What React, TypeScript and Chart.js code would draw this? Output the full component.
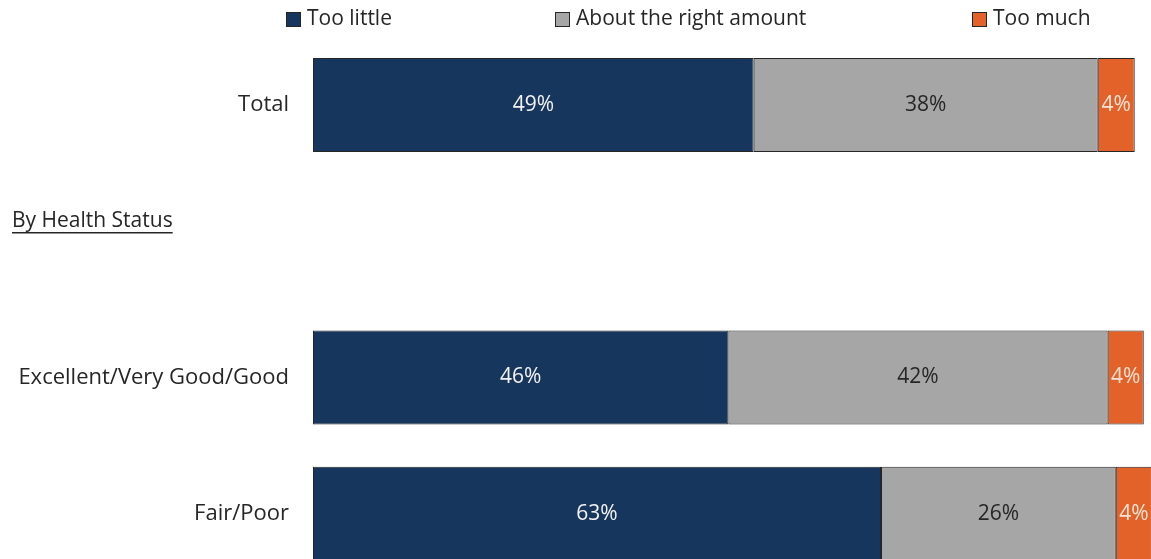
import React, { useEffect, useRef } from "react";
import { Chart, registerables } from "chart.js";

Chart.register(...registerables);

const categories = ["Total", "", "Excellent/Very Good/Good", "Fair/Poor"];
const seriesNames = ["Too little", "About the right amount", "Too much"];
const tooLittle = [48.8, null, 46.0, 62.9];
const aboutRight = [38.1, null, 42.0, 26.0];
const tooMuch = [4.1, null, 4.0, 4.0];
const sectionLabel = "By Health Status";

const colors = ["#17365D", "#A6A6A6", "#E2622A"];
const labelColors = ["#F2F2F2", "#262626", "#F7E3D6"];
const FONT = "'Open Sans', Lato, sans-serif";
const FS = 21;
const AXIS_FS = 22;

const legendPos = [286, 555, 972];

const overlayPlugin = {
  id: "overlay",
  afterDatasetsDraw(chart: any) {
    const ctx = chart.ctx;
    ctx.save();
    // data labels
    chart.data.datasets.forEach((ds: any, di: number) => {
      const meta = chart.getDatasetMeta(di);
      meta.data.forEach((el: any, i: number) => {
        const v = ds.data[i];
        if (v == null) return;
        const p = el.getProps(["x", "y", "base"], true);
        const right = Math.min(p.x, chart.chartArea.right + 1);
        const cx = (p.base + right) / 2;
        ctx.font = `${FS}px ${FONT}`;
        ctx.fillStyle = labelColors[di];
        ctx.textAlign = "center";
        ctx.textBaseline = "middle";
        ctx.fillText(Math.round(v) + "%", cx, p.y);
      });
    });
    // legend
    ctx.font = `${FS}px ${FONT}`;
    ctx.textAlign = "left";
    ctx.textBaseline = "middle";
    seriesNames.forEach((name, i) => {
      const x = legendPos[i];
      const y = 19;
      ctx.fillStyle = colors[i];
      ctx.fillRect(x, y - 7, 15, 15);
      ctx.strokeStyle = "#262626";
      ctx.lineWidth = 1;
      ctx.strokeRect(x + 0.5, y - 6.5, 14, 14);
      ctx.fillStyle = "#262626";
      ctx.fillText(name, x + 21, y);
    });
    // section label
    ctx.font = `${FS}px ${FONT}`;
    ctx.fillStyle = "#262626";
    ctx.textAlign = "left";
    ctx.textBaseline = "middle";
    const sx = 12;
    const sy = 221;
    ctx.fillText(sectionLabel, sx, sy);
    const w = ctx.measureText(sectionLabel).width;
    ctx.fillRect(sx, sy + 11, w, 1.5);
    ctx.restore();
  },
};

export default function App() {
  const ref = useRef<HTMLCanvasElement>(null);
  useEffect(() => {
    if (!ref.current) return;
    const chart = new Chart(ref.current, {
      type: "bar",
      data: {
        labels: categories,
        datasets: [tooLittle, aboutRight, tooMuch].map((d, i) => ({
          label: seriesNames[i],
          data: d as any,
          backgroundColor: colors[i],
          borderColor: "#262626",
          borderWidth: 1,
          borderSkipped: false,
          barPercentage: 0.69,
          categoryPercentage: 1,
        })),
      },
      options: {
        indexAxis: "y",
        animation: false,
        responsive: false,
        maintainAspectRatio: false,
        layout: { padding: { top: 37, left: 0, right: 0, bottom: 0 } },
        plugins: {
          legend: { display: false },
          tooltip: { enabled: false },
        },
        scales: {
          x: {
            stacked: true,
            display: false,
            min: 0,
            max: 92.8,
          },
          y: {
            stacked: true,
            grid: { display: false },
            border: { display: false },
            ticks: {
              padding: 16,
              color: "#262626",
              font: { family: FONT, size: AXIS_FS },
            },
            afterFit: (scale: any) => {
              scale.width = 313;
            },
          },
        },
      },
      plugins: [overlayPlugin],
    });
    return () => chart.destroy();
  }, []);
  return (
    <div
      style={{
        position: "fixed",
        left: 0,
        top: 0,
        width: 1151,
        height: 559,
        overflow: "hidden",
        background: "#fff",
      }}
    >
      <canvas ref={ref} width={1151} height={611} style={{ display: "block" }} />
    </div>
  );
}
